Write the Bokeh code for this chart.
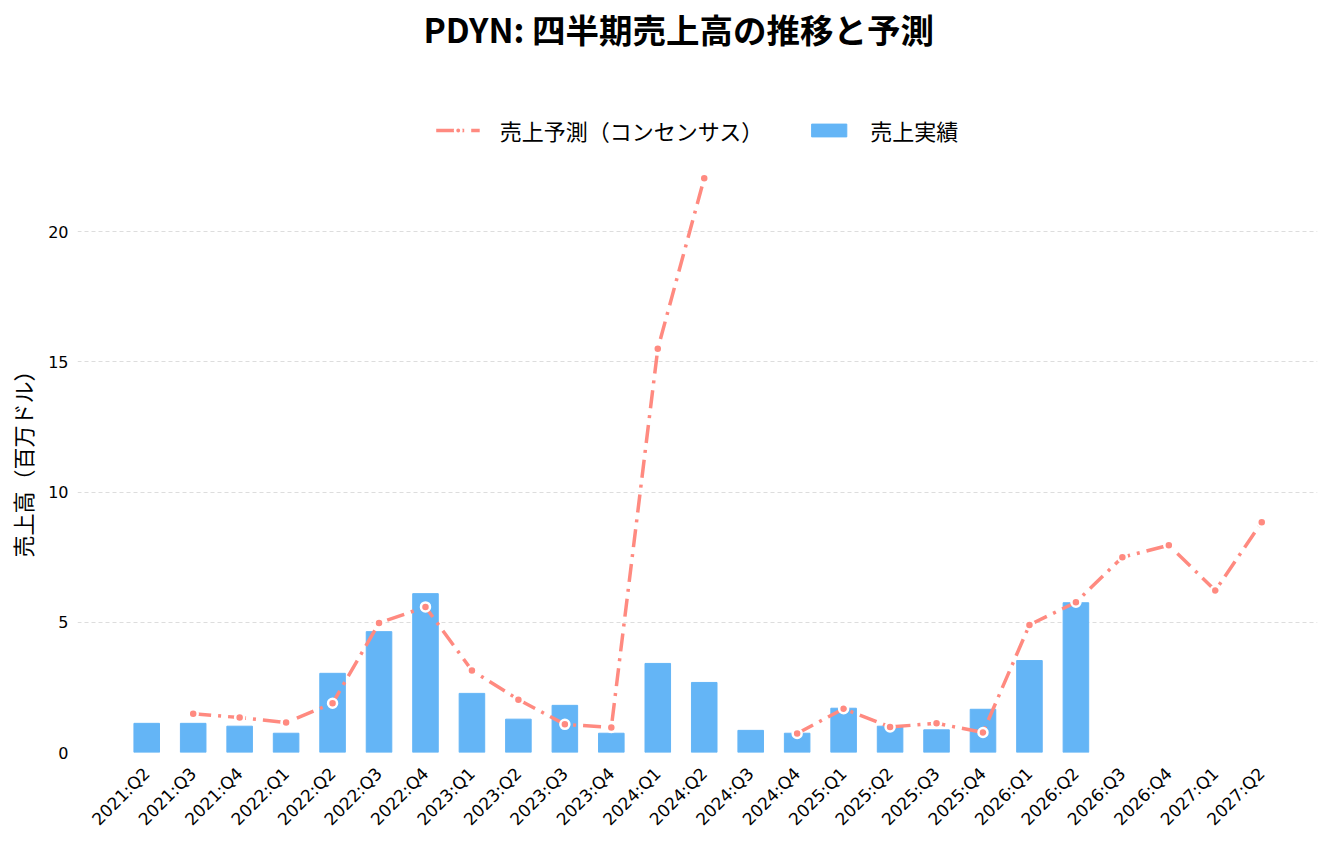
import math
from bokeh.plotting import figure
from bokeh.models import ColumnDataSource, Range1d, FixedTicker, Legend, LegendItem
from bokeh.embed import file_html
from bokeh.resources import INLINE

# 四半期ラベルと売上データ（百万ドル）
quarters = ["2021:Q2", "2021:Q3", "2021:Q4", "2022:Q1", "2022:Q2", "2022:Q3", "2022:Q4",
            "2023:Q1", "2023:Q2", "2023:Q3", "2023:Q4", "2024:Q1", "2024:Q2", "2024:Q3",
            "2024:Q4", "2025:Q1", "2025:Q2", "2025:Q3", "2025:Q4", "2026:Q1", "2026:Q2",
            "2026:Q3", "2026:Q4", "2027:Q1", "2027:Q2"]
nan = float("nan")
actual = [1.12, 1.12, 1.01, 0.74, 3.04, 4.64, 6.10, 2.27, 1.28, 1.81, 0.74, 3.42, 2.69,
          0.85, 0.74, 1.70, 1.01, 0.87, 1.66, 3.53, 5.75, nan, nan, nan, nan]
forecast = [nan, 1.49, 1.34, 1.15, 1.89, 4.97, 5.59, 3.15, 2.03, 1.08, 0.96, 15.5, 22.05,
            nan, 0.73, 1.68, 0.98, 1.12, 0.77, 4.9, 5.77, 7.5, 7.96, 6.22, 8.84]
y_ticks = [0, 5, 10, 15, 20]

FONT = "Noto Sans CJK JP"
TICK_FONT = "DejaVu Sans"
BAR_COLOR = "#64B5F6"
LINE_COLOR = "#FF8A80"

idx = list(range(len(quarters)))
src = ColumnDataSource(dict(x=idx, actual=actual, forecast=forecast))

p = figure(width=1324, height=839, output_backend="svg", toolbar_location=None,
           x_range=Range1d(-1.49, 25.2), y_range=Range1d(0, 26.8),
           title="PDYN: 四半期売上高の推移と予測",
           min_border_left=77, min_border_right=7, min_border_top=0, min_border_bottom=87)

p.title.text_font = FONT
p.title.text_font_size = "33.5px"
p.title.text_font_style = "bold"
p.title.text_color = "black"
p.title.align = "left"
p.title.offset = 346
p.title.standoff = 3

bars = p.vbar(x="x", top="actual", width=0.55, source=src, color=BAR_COLOR)
line = p.line(x="x", y="forecast", source=src, line_color=LINE_COLOR, line_width=3.5,
              line_dash="18 7 3 7")
dots = p.scatter(x="x", y="forecast", source=src, size=9, fill_color=LINE_COLOR,
                 line_color="white", line_width=2.5)

legend = Legend(items=[LegendItem(label="売上予測（コンセンサス）", renderers=[line, dots]),
                       LegendItem(label="売上実績", renderers=[bars])],
                location="top_center", orientation="horizontal",
                border_line_color=None, background_fill_alpha=0,
                label_text_font=FONT, label_text_font_size="22px", label_text_color="black",
                glyph_width=44, glyph_height=16, label_standoff=20, spacing=43,
                padding=0, margin=60)
p.add_layout(legend)

p.outline_line_color = None
p.xgrid.grid_line_color = None
p.ygrid.grid_line_color = "#dddddd"
p.ygrid.grid_line_dash = "4 3"
p.ygrid.grid_line_width = 1

p.yaxis.ticker = FixedTicker(ticks=y_ticks)
# 末尾の空白でラベルを下寄せ（元図の位置に合わせる）
p.yaxis.axis_label = "売上高（百万ドル）" + "\u3000" * 5 + "\u2002"
p.yaxis.axis_label_text_font = FONT
p.yaxis.axis_label_text_font_size = "22px"
p.yaxis.axis_label_text_font_style = "normal"
p.yaxis.axis_label_text_color = "black"
p.yaxis.axis_label_standoff = 7

p.xaxis.ticker = FixedTicker(ticks=idx)
p.xaxis.major_label_overrides = {i: q for i, q in enumerate(quarters)}
p.xaxis.major_label_orientation = math.pi / 4

for ax in (p.xaxis, p.yaxis):
    ax.axis_line_color = None
    ax.major_tick_line_color = None
    ax.minor_tick_line_color = None
    ax.major_tick_out = 0
    ax.major_label_text_font = TICK_FONT
    ax.major_label_text_color = "black"
p.yaxis.major_label_text_font_size = "16px"
p.yaxis.major_label_standoff = 9
p.xaxis.major_label_text_font_size = "17px"
p.xaxis.major_label_standoff = 18

open("out.html", "w").write(file_html(p, INLINE))
